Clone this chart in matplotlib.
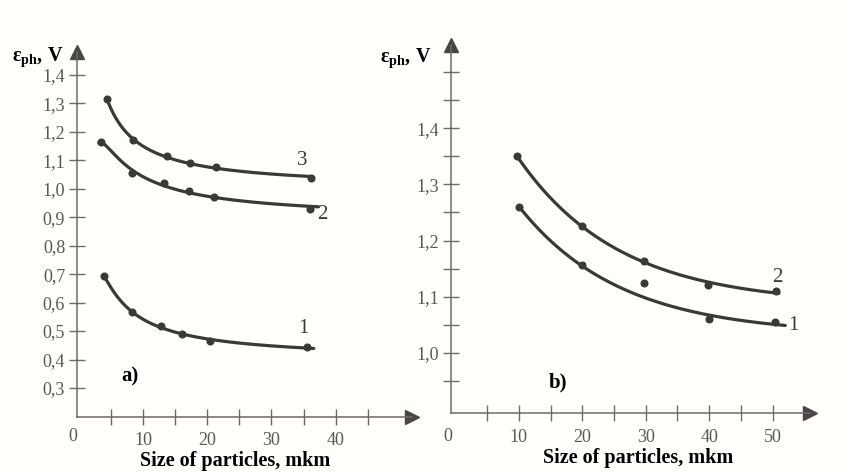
import numpy as np
import matplotlib
matplotlib.use("Agg")
import matplotlib.pyplot as plt
from matplotlib.ticker import FixedLocator, NullFormatter

plt.rcParams['font.family'] = ['Liberation Serif', 'DejaVu Serif']
plt.rcParams['mathtext.fontset'] = 'custom'
plt.rcParams['mathtext.rm'] = 'Liberation Serif'
plt.rcParams['mathtext.bf'] = 'Liberation Serif:bold'
plt.rcParams['mathtext.it'] = 'Liberation Serif:italic'

# panel a) - measured points, size of particles (mkm) vs eph (V)
a1_x = [3.9, 8.3, 12.8, 16.1, 20.5, 35.6]
a1_y = [0.693, 0.566, 0.517, 0.490, 0.464, 0.443]
a2_x = [3.4, 8.3, 13.3, 17.2, 21.0, 36.0]
a2_y = [1.163, 1.056, 1.019, 0.993, 0.971, 0.929]
a3_x = [4.4, 8.4, 13.7, 17.3, 21.4, 36.2]
a3_y = [1.314, 1.171, 1.114, 1.090, 1.075, 1.038]
a_ranges = {'1': (3.9, 36.6), '2': (3.1, 37.3), '3': (4.4, 36.2)}

# panel b)
b1_x = [10, 20, 40, 50.4]
b1_y = [1.260, 1.157, 1.061, 1.055]
b1_extra_x = [29.7]
b1_extra_y = [1.125]
b2_x = [9.7, 20, 29.7, 39.8, 50.6]
b2_y = [1.350, 1.225, 1.164, 1.120, 1.110]
b_ranges = {'1': (10, 52), '2': (9.7, 51)}

a_yticks = [0.3, 0.4, 0.5, 0.6, 0.7, 0.8, 0.9, 1.0, 1.1, 1.2, 1.3, 1.4]
b_yticks = [1.0, 1.1, 1.2, 1.3, 1.4]
b_yminor = [0.95, 1.05, 1.15, 1.25, 1.35, 1.45, 1.5]

LINE = '#3b3838'
AXC = '#6e6a6a'
TXT = '#5a5656'

fig = plt.figure(figsize=(8.52, 4.72), dpi=100, facecolor='#fffffb')


def fit_curve(ax, xs, ys, xr, mode):
    xs = np.array(xs, float)
    ys = np.array(ys, float)
    xx = np.linspace(xr[0], xr[1], 300)
    best = None
    if mode == 'hyp':
        # y = p2*u^2 + p1*u + p0, u = 1/(x - c), shift c picked by least squares
        for c in np.linspace(0, xr[0] - 0.15, 120):
            co, res, *_ = np.polyfit(1.0 / (xs - c), ys, 2, full=True)
            r = res[0] if len(res) else 0
            if best is None or r < best[0]:
                best = (r, c, co)
        _, c, co = best
        yy = np.polyval(co, 1.0 / (xx - c))
    else:
        # y = a + b*exp(-x/t), decay t picked by least squares
        for t in np.linspace(3, 60, 300):
            A = np.column_stack([np.ones_like(xs), np.exp(-xs / t)])
            co, res, *_ = np.linalg.lstsq(A, ys, rcond=None)
            r = np.sum((A @ co - ys) ** 2)
            if best is None or r < best[0]:
                best = (r, t, co)
        _, t, co = best
        yy = co[0] + co[1] * np.exp(-xx / t)
    ax.plot(xx, yy, color=LINE, lw=2.3, solid_capstyle='round', zorder=3)
    ax.plot(xs, ys, 'o', color=LINE, ms=4.8, zorder=4)


def style_axes(ax):
    ax.set_facecolor('none')
    for s in ['top', 'right']:
        ax.spines[s].set_visible(False)
    for s in ['left', 'bottom']:
        ax.spines[s].set_color(AXC)
        ax.spines[s].set_linewidth(1.1)
    ax.tick_params(which='both', direction='inout', length=11, width=1.0,
                   color=AXC, labelcolor=TXT, labelsize=13)
    ax.tick_params(axis='x', which='major', pad=6)
    ax.tick_params(axis='y', which='major', pad=3)
    # arrow heads on the axes
    ax.plot(1, 0, '>', transform=ax.transAxes, color='#4a4646', ms=10, clip_on=False)
    ax.plot(0, 1, '^', transform=ax.transAxes, color='#4a4646', ms=10, clip_on=False)


# ---------- panel a ----------
axa = fig.add_axes([77 / 852, 1 - 416.5 / 472, 335 / 852, (416.5 - 52) / 472])
axa.set_xlim(-0.3, 51.9)
axa.set_ylim(0.2, 1.48)
style_axes(axa)
fit_curve(axa, a1_x, a1_y, a_ranges['1'], 'hyp')
fit_curve(axa, a2_x, a2_y, a_ranges['2'], 'hyp')
fit_curve(axa, a3_x, a3_y, a_ranges['3'], 'hyp')
axa.set_yticks(a_yticks)
axa.set_yticklabels([('%.1f' % v).replace('.', ',') for v in a_yticks])
axa.xaxis.set_major_locator(FixedLocator([10, 20, 30, 40]))
axa.xaxis.set_minor_locator(FixedLocator([5, 15, 25, 35, 45]))
axa.xaxis.set_minor_formatter(NullFormatter())
axa.text(-0.9, 0.16, '0', ha='center', va='top', fontsize=13, color=TXT)
axa.text(34.8, 1.10, '3', fontsize=15, color=LINE, ha='center', va='center')
axa.text(38.0, 0.91, '2', fontsize=15, color=LINE, ha='center', va='center')
axa.text(35.0, 0.51, '1', fontsize=15, color=LINE, ha='center', va='center')
axa.text(8.0, 0.34, 'a)', fontsize=15, fontweight='bold', ha='center', va='center')
fig.text(235 / 852, 1 - 461 / 472, 'Size of particles, mkm', fontsize=14.5,
         fontweight='bold', ha='center', va='center')
fig.text(12 / 852, 1 - 57 / 472, r'$\mathbf{\varepsilon_{ph}}$, V', fontsize=14.5,
         fontweight='bold', ha='left', va='center')

# ---------- panel b ----------
axb = fig.add_axes([451 / 852, 1 - 413 / 472, 359 / 852, (413 - 45) / 472])
axb.set_xlim(-0.7, 55.9)
axb.set_ylim(0.893, 1.548)
style_axes(axb)
fit_curve(axb, b1_x, b1_y, b_ranges['1'], 'exp')
axb.plot(b1_extra_x, b1_extra_y, 'o', color=LINE, ms=4.8, zorder=4)
fit_curve(axb, b2_x, b2_y, b_ranges['2'], 'exp')
axb.set_yticks(b_yticks)
axb.set_yticklabels([('%.1f' % v).replace('.', ',') for v in b_yticks])
axb.yaxis.set_minor_locator(FixedLocator(b_yminor))
axb.yaxis.set_minor_formatter(NullFormatter())
axb.xaxis.set_major_locator(FixedLocator([10, 20, 30, 40, 50]))
axb.xaxis.set_minor_locator(FixedLocator([5, 15, 25, 35, 45]))
axb.xaxis.set_minor_formatter(NullFormatter())
axb.text(-1.2, 0.866, '0', ha='center', va='top', fontsize=13, color=TXT)
axb.text(50.8, 1.135, '2', fontsize=15, color=LINE, ha='center', va='center')
axb.text(53.3, 1.048, '1', fontsize=15, color=LINE, ha='center', va='center')
axb.text(16.1, 0.947, 'b)', fontsize=15, fontweight='bold', ha='center', va='center')
fig.text(638 / 852, 1 - 458 / 472, 'Size of particles, mkm', fontsize=14.5,
         fontweight='bold', ha='center', va='center')
fig.text(380 / 852, 1 - 58 / 472, r'$\mathbf{\varepsilon_{ph}}$, V', fontsize=14.5,
         fontweight='bold', ha='left', va='center')

fig.savefig('out.png', dpi=100, facecolor=fig.get_facecolor())
